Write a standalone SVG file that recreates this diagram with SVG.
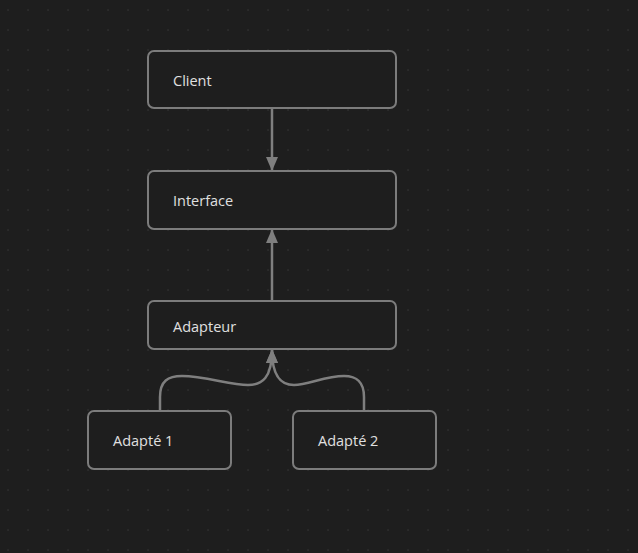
<svg xmlns="http://www.w3.org/2000/svg" width="638" height="553" viewBox="0 0 638 553">
<defs>
<pattern id="grid" x="0" y="0" width="20" height="20" patternUnits="userSpaceOnUse">
<rect x="7.4" y="9.4" width="1.3" height="1.3" fill="#383838"/>
</pattern>
<marker id="arr" viewBox="0 0 14 12" refX="13" refY="6" markerWidth="14" markerHeight="12" markerUnits="userSpaceOnUse" orient="auto">
<path d="M0,0 L14,6 L0,12 Z" fill="#7f7f7f"/>
</marker>
</defs>
<style>
.node rect{fill:#1e1e1e;stroke:#7c7c7c;stroke-width:2}
.node text{font-family:"Open Sans","Noto Sans",sans-serif;font-size:14.5px;fill:#e0e0e0}
.edge{fill:none;stroke:#7f7f7f;stroke-width:2.5}
</style>
<rect width="638" height="553" fill="#1e1e1e"/>
<rect width="638" height="553" fill="url(#grid)"/>
<g id="connectors">
<path class="edge" d="M272,109 L272,170" marker-end="url(#arr)"/>
<path class="edge" d="M272,301 L272,230" marker-end="url(#arr)"/>
<path class="edge" d="M160,411 L160,397 C160,381 168,376 182,376 C205,376 230,385 248,385 C262,385 272,378 272,350" marker-end="url(#arr)"/>
<path class="edge" d="M364,411 L364,397 C364,381 356,376 344,376 C325,376 308,385 294,385 C282,385 272,378 272,350" marker-end="url(#arr)"/>
</g>
<g id="client" class="node"><rect x="148" y="51" width="248" height="57" rx="6"/><text x="173" y="86">Client</text></g>
<g id="interface" class="node"><rect x="148" y="171" width="248" height="58" rx="6"/><text x="173" y="206">Interface</text></g>
<g id="adapteur" class="node"><rect x="148" y="301" width="248" height="48" rx="6"/><text x="173" y="332">Adapteur</text></g>
<g id="adapte1" class="node"><rect x="88" y="411" width="143" height="58" rx="6"/><text x="113" y="446">Adapté 1</text></g>
<g id="adapte2" class="node"><rect x="293" y="411" width="143" height="58" rx="6"/><text x="318" y="446">Adapté 2</text></g>
</svg>
